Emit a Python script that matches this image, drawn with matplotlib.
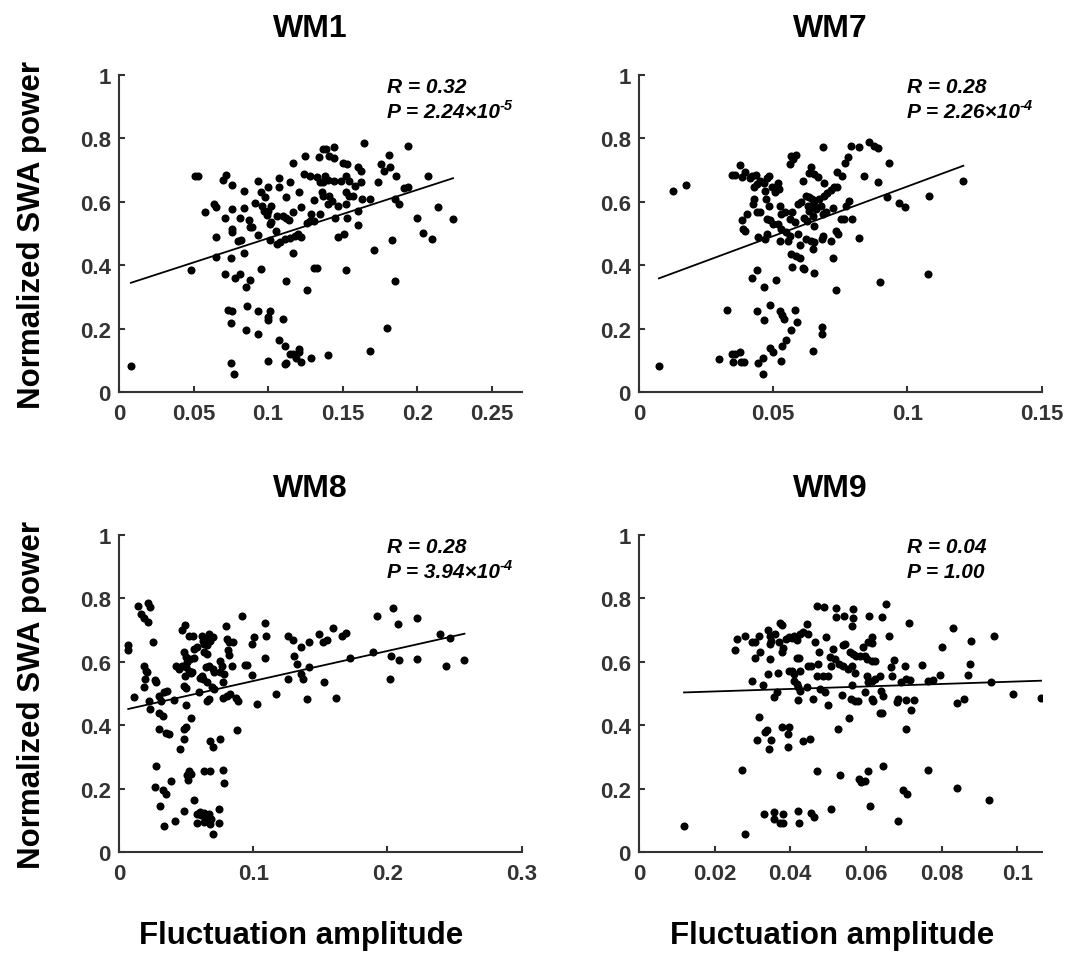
"""
Normalized SWA power vs fluctuation amplitude, four WM regions.
"""
import numpy as np
import matplotlib
matplotlib.use("Agg")
import matplotlib.pyplot as plt

plt.rcParams["font.family"] = ["Liberation Sans", "DejaVu Sans"]

# ---------------------------------------------------------------------
# Data
# ---------------------------------------------------------------------
wm1_x = [
    0.008, 0.048, 0.051, 0.053, 0.058, 0.064, 0.065, 0.065, 0.065, 0.070,
    0.072, 0.076, 0.071, 0.076, 0.076, 0.076, 0.071, 0.075, 0.078, 0.081,
    0.080, 0.082, 0.081, 0.084, 0.085, 0.088, 0.084, 0.084, 0.087, 0.088,
    0.089, 0.091, 0.093, 0.093, 0.095, 0.096, 0.097, 0.098, 0.099, 0.100,
    0.100, 0.102, 0.101, 0.102, 0.095, 0.101, 0.105, 0.107, 0.107, 0.106,
    0.106, 0.108, 0.110, 0.112, 0.114, 0.112, 0.115, 0.117, 0.117, 0.111,
    0.115, 0.118, 0.120, 0.122, 0.117, 0.112, 0.121, 0.122, 0.124, 0.125,
    0.126, 0.128, 0.131, 0.129, 0.128, 0.131, 0.134, 0.135, 0.133, 0.135,
    0.137, 0.136, 0.137, 0.137, 0.139, 0.138, 0.140, 0.140, 0.143, 0.141,
    0.141, 0.144, 0.144, 0.144, 0.145, 0.147, 0.147, 0.151, 0.149, 0.150,
    0.153, 0.152, 0.154, 0.152, 0.153, 0.152, 0.154, 0.157, 0.158, 0.160,
    0.160, 0.162, 0.162, 0.163, 0.164, 0.160, 0.168, 0.171, 0.174, 0.176,
    0.178, 0.181, 0.182, 0.186, 0.185, 0.188, 0.183, 0.185, 0.191, 0.194,
    0.194, 0.200, 0.204, 0.207, 0.210, 0.214, 0.224, 0.131, 0.133, 0.152,
    0.126, 0.073, 0.076, 0.075, 0.086, 0.085, 0.093, 0.093, 0.100, 0.101,
    0.100, 0.110, 0.107, 0.111, 0.115, 0.117, 0.121, 0.121, 0.119, 0.122,
    0.112, 0.111, 0.129, 0.140, 0.100, 0.075, 0.077, 0.168, 0.180,
]
wm1_y = [
    0.084, 0.386, 0.681, 0.683, 0.567, 0.592, 0.583, 0.491, 0.425, 0.670,
    0.686, 0.653, 0.548, 0.515, 0.506, 0.578, 0.373, 0.422, 0.359, 0.373,
    0.478, 0.480, 0.551, 0.438, 0.331, 0.355, 0.636, 0.581, 0.543, 0.520,
    0.522, 0.596, 0.665, 0.496, 0.630, 0.588, 0.572, 0.615, 0.559, 0.572,
    0.646, 0.588, 0.530, 0.538, 0.389, 0.480, 0.509, 0.646, 0.674, 0.557,
    0.467, 0.473, 0.557, 0.549, 0.543, 0.615, 0.662, 0.723, 0.567, 0.483,
    0.485, 0.494, 0.499, 0.488, 0.438, 0.352, 0.630, 0.585, 0.688, 0.746,
    0.534, 0.540, 0.540, 0.562, 0.681, 0.607, 0.741, 0.562, 0.678, 0.664,
    0.664, 0.630, 0.620, 0.767, 0.767, 0.681, 0.670, 0.593, 0.604, 0.620,
    0.746, 0.737, 0.772, 0.667, 0.548, 0.588, 0.491, 0.499, 0.667, 0.723,
    0.720, 0.681, 0.667, 0.593, 0.548, 0.630, 0.620, 0.620, 0.651, 0.573,
    0.711, 0.696, 0.662, 0.609, 0.785, 0.527, 0.609, 0.450, 0.662, 0.720,
    0.696, 0.748, 0.709, 0.681, 0.609, 0.593, 0.480, 0.350, 0.643, 0.647,
    0.775, 0.548, 0.501, 0.681, 0.483, 0.583, 0.546, 0.392, 0.392, 0.384,
    0.324, 0.260, 0.257, 0.217, 0.273, 0.197, 0.255, 0.183, 0.229, 0.257,
    0.236, 0.231, 0.166, 0.147, 0.121, 0.121, 0.137, 0.126, 0.107, 0.097,
    0.092, 0.089, 0.107, 0.119, 0.100, 0.093, 0.058, 0.130, 0.204,
]

wm7_x = [
    0.0074, 0.0126, 0.0175, 0.0326, 0.0298, 0.0347, 0.0359, 0.0375, 0.0349, 0.0380,
    0.0390, 0.0348, 0.0375, 0.0359, 0.0384, 0.0393, 0.0414, 0.0420, 0.0436, 0.0429,
    0.0439, 0.0451, 0.0466, 0.0475, 0.0485, 0.0469, 0.0494, 0.0518, 0.0522, 0.0506,
    0.0384, 0.0387, 0.0393, 0.0402, 0.0424, 0.0429, 0.0439, 0.0451, 0.0473, 0.0485,
    0.0475, 0.0487, 0.0498, 0.0445, 0.0469, 0.0478, 0.0524, 0.0529, 0.0543, 0.0518,
    0.0529, 0.0524, 0.0549, 0.0555, 0.0561, 0.0561, 0.0571, 0.0580, 0.0567, 0.0586,
    0.0564, 0.0574, 0.0593, 0.0604, 0.0594, 0.0598, 0.0610, 0.0616, 0.0625, 0.0623,
    0.0635, 0.0645, 0.0653, 0.0629, 0.0635, 0.0653, 0.0659, 0.0641, 0.0653, 0.0632,
    0.0666, 0.0647, 0.0653, 0.0623, 0.0641, 0.0653, 0.0647, 0.0672, 0.0678, 0.0690,
    0.0686, 0.0690, 0.0702, 0.0686, 0.0696, 0.0684, 0.0681, 0.0714, 0.0727, 0.0739,
    0.0721, 0.0714, 0.0735, 0.0743, 0.0751, 0.0763, 0.0739, 0.0755, 0.0767, 0.0779,
    0.0770, 0.0784, 0.0794, 0.0788, 0.0821, 0.0837, 0.0821, 0.0858, 0.0877, 0.0890,
    0.0892, 0.0931, 0.0923, 0.0968, 0.0990, 0.1082, 0.1208, 0.1076, 0.0898, 0.0735,
    0.0724, 0.0653, 0.0610, 0.0616, 0.0571, 0.0567, 0.0586, 0.0598, 0.0420, 0.0439,
    0.0466, 0.0512, 0.0439, 0.0466, 0.0488, 0.0524, 0.0534, 0.0540, 0.0582, 0.0588,
    0.0565, 0.0549, 0.0534, 0.0681, 0.0681, 0.0647, 0.0488, 0.0500, 0.0463, 0.0445,
    0.0530, 0.0460,
]
wm7_y = [
    0.084, 0.636, 0.653, 0.260, 0.105, 0.121, 0.121, 0.128, 0.095, 0.095,
    0.097, 0.686, 0.718, 0.685, 0.678, 0.695, 0.674, 0.683, 0.686, 0.646,
    0.657, 0.667, 0.660, 0.676, 0.681, 0.636, 0.646, 0.660, 0.641, 0.632,
    0.543, 0.515, 0.510, 0.562, 0.593, 0.609, 0.567, 0.569, 0.609, 0.588,
    0.546, 0.543, 0.530, 0.488, 0.483, 0.499, 0.588, 0.562, 0.567, 0.530,
    0.515, 0.478, 0.504, 0.478, 0.494, 0.546, 0.567, 0.536, 0.746, 0.748,
    0.720, 0.735, 0.593, 0.599, 0.499, 0.465, 0.667, 0.551, 0.541, 0.620,
    0.615, 0.609, 0.604, 0.588, 0.573, 0.588, 0.578, 0.709, 0.688, 0.690,
    0.678, 0.557, 0.525, 0.483, 0.478, 0.475, 0.452, 0.609, 0.588, 0.659,
    0.772, 0.620, 0.627, 0.562, 0.567, 0.494, 0.483, 0.638, 0.646, 0.646,
    0.580, 0.478, 0.509, 0.499, 0.546, 0.546, 0.695, 0.681, 0.723, 0.741,
    0.588, 0.604, 0.546, 0.775, 0.773, 0.683, 0.486, 0.788, 0.775, 0.769,
    0.662, 0.723, 0.615, 0.597, 0.585, 0.618, 0.665, 0.373, 0.349, 0.324,
    0.423, 0.376, 0.391, 0.389, 0.394, 0.436, 0.431, 0.422, 0.359, 0.386,
    0.331, 0.355, 0.257, 0.228, 0.275, 0.257, 0.244, 0.231, 0.260, 0.221,
    0.197, 0.166, 0.147, 0.205, 0.184, 0.131, 0.139, 0.126, 0.107, 0.091,
    0.100, 0.058,
]

wm8_x = [
    0.0069, 0.0069, 0.0113, 0.0142, 0.0162, 0.0186, 0.0216, 0.0228, 0.0216, 0.0252,
    0.0186, 0.0203, 0.0211, 0.0191, 0.0186, 0.0265, 0.0277, 0.0221, 0.0228, 0.0301,
    0.0314, 0.0338, 0.0358, 0.0326, 0.0301, 0.0301, 0.0350, 0.0375, 0.0412, 0.0277,
    0.0270, 0.0326, 0.0350, 0.0306, 0.0333, 0.0387, 0.0417, 0.0485, 0.0424, 0.0448,
    0.0456, 0.0485, 0.0485, 0.0498, 0.0539, 0.0498, 0.0485, 0.0498, 0.0490, 0.0522,
    0.0534, 0.0473, 0.0498, 0.0510, 0.0547, 0.0485, 0.0498, 0.0529, 0.0559, 0.0473,
    0.0490, 0.0522, 0.0554, 0.0559, 0.0583, 0.0596, 0.0603, 0.0620, 0.0620, 0.0627,
    0.0645, 0.0637, 0.0657, 0.0681, 0.0701, 0.0669, 0.0632, 0.0657, 0.0645, 0.0669,
    0.0627, 0.0657, 0.0701, 0.0711, 0.0669, 0.0657, 0.0706, 0.0694, 0.0676, 0.0701,
    0.0750, 0.0510, 0.0534, 0.0515, 0.0522, 0.0632, 0.0681, 0.0775, 0.0784, 0.0559,
    0.0578, 0.0603, 0.0613, 0.0637, 0.0645, 0.0669, 0.0686, 0.0578, 0.0632, 0.0681,
    0.0701, 0.0743, 0.0743, 0.0750, 0.0767, 0.0755, 0.0779, 0.0775, 0.0775, 0.0804,
    0.0824, 0.0799, 0.0804, 0.0816, 0.0853, 0.0811, 0.0816, 0.0841, 0.0873, 0.0890,
    0.0877, 0.0914, 0.0939, 0.0956, 0.0988, 0.1005, 0.0988, 0.1025, 0.1086, 0.1093,
    0.1086, 0.1172, 0.1257, 0.1294, 0.1306, 0.1326, 0.1257, 0.1355, 0.1417, 0.1355,
    0.1373, 0.1412, 0.1404, 0.1490, 0.1520, 0.1547, 0.1593, 0.1662, 0.1694, 0.1527,
    0.1618, 0.1723, 0.1895, 0.1919, 0.2042, 0.2078, 0.2029, 0.2083, 0.2017, 0.2221,
    0.2221, 0.2392, 0.2466, 0.2434, 0.2574,
]
wm8_y = [
    0.653, 0.638, 0.488, 0.775, 0.751, 0.738, 0.785, 0.772, 0.725, 0.664,
    0.588, 0.572, 0.567, 0.546, 0.520, 0.543, 0.536, 0.478, 0.450, 0.494,
    0.478, 0.506, 0.509, 0.431, 0.438, 0.389, 0.376, 0.373, 0.481, 0.273,
    0.205, 0.197, 0.183, 0.147, 0.084, 0.226, 0.099, 0.129, 0.588, 0.578,
    0.324, 0.357, 0.389, 0.394, 0.422, 0.464, 0.525, 0.517, 0.557, 0.572,
    0.565, 0.588, 0.583, 0.599, 0.567, 0.630, 0.615, 0.610, 0.611, 0.699,
    0.716, 0.683, 0.683, 0.641, 0.646, 0.504, 0.548, 0.557, 0.683, 0.667,
    0.672, 0.657, 0.653, 0.667, 0.678, 0.688, 0.630, 0.625, 0.583, 0.588,
    0.546, 0.536, 0.578, 0.567, 0.483, 0.478, 0.515, 0.520, 0.352, 0.331,
    0.357, 0.242, 0.247, 0.228, 0.257, 0.257, 0.257, 0.260, 0.217, 0.165,
    0.119, 0.126, 0.116, 0.124, 0.110, 0.121, 0.105, 0.092, 0.095, 0.089,
    0.058, 0.137, 0.092, 0.604, 0.588, 0.567, 0.562, 0.536, 0.485, 0.494,
    0.499, 0.712, 0.672, 0.664, 0.662, 0.636, 0.622, 0.588, 0.485, 0.478,
    0.386, 0.744, 0.591, 0.591, 0.657, 0.678, 0.559, 0.467, 0.723, 0.683,
    0.611, 0.499, 0.683, 0.670, 0.620, 0.593, 0.546, 0.646, 0.662, 0.562,
    0.546, 0.583, 0.483, 0.688, 0.662, 0.670, 0.706, 0.680, 0.691, 0.536,
    0.486, 0.611, 0.630, 0.746, 0.769, 0.720, 0.618, 0.606, 0.546, 0.739,
    0.609, 0.688, 0.675, 0.586, 0.606,
]

wm9_x = [
    0.0119, 0.0280, 0.0273, 0.0254, 0.0258, 0.0280, 0.0299, 0.0306, 0.0317, 0.0299,
    0.0306, 0.0320, 0.0327, 0.0342, 0.0346, 0.0349, 0.0346, 0.0342, 0.0346, 0.0358,
    0.0364, 0.0359, 0.0370, 0.0368, 0.0373, 0.0379, 0.0381, 0.0379, 0.0390, 0.0396,
    0.0405, 0.0411, 0.0417, 0.0426, 0.0434, 0.0448, 0.0445, 0.0417, 0.0423, 0.0397,
    0.0404, 0.0411, 0.0426, 0.0411, 0.0417, 0.0426, 0.0421, 0.0443, 0.0421, 0.0448,
    0.0456, 0.0474, 0.0461, 0.0465, 0.0470, 0.0489, 0.0476, 0.0472, 0.0487, 0.0499,
    0.0478, 0.0491, 0.0499, 0.0494, 0.0505, 0.0514, 0.0518, 0.0509, 0.0521, 0.0522,
    0.0543, 0.0529, 0.0540, 0.0553, 0.0562, 0.0540, 0.0545, 0.0537, 0.0567, 0.0567,
    0.0562, 0.0558, 0.0567, 0.0575, 0.0584, 0.0571, 0.0562, 0.0560, 0.0571, 0.0580,
    0.0555, 0.0593, 0.0597, 0.0602, 0.0615, 0.0624, 0.0608, 0.0606, 0.0615, 0.0617,
    0.0602, 0.0606, 0.0617, 0.0624, 0.0597, 0.0615, 0.0619, 0.0637, 0.0641, 0.0646,
    0.0637, 0.0643, 0.0643, 0.0653, 0.0661, 0.0666, 0.0670, 0.0675, 0.0681, 0.0685,
    0.0694, 0.0703, 0.0707, 0.0717, 0.0707, 0.0727, 0.0720, 0.0714, 0.0707, 0.0749,
    0.0763, 0.0778, 0.0796, 0.0802, 0.0831, 0.0840, 0.0860, 0.0869, 0.0875, 0.0879,
    0.0932, 0.0939, 0.0989, 0.1064, 0.0317, 0.0333, 0.0339, 0.0311, 0.0349, 0.0344,
    0.0377, 0.0397, 0.0395, 0.0395, 0.0434, 0.0452, 0.0525, 0.0472, 0.0531, 0.0581,
    0.0588, 0.0597, 0.0606, 0.0644, 0.0763, 0.0697, 0.0709, 0.0841, 0.0926, 0.0612,
    0.0685, 0.0507, 0.0330, 0.0358, 0.0381, 0.0421, 0.0456, 0.0463, 0.0358, 0.0373,
    0.0381, 0.0423,
]
wm9_y = [
    0.084, 0.058, 0.259, 0.636, 0.671, 0.680, 0.662, 0.664, 0.683, 0.541,
    0.611, 0.630, 0.527, 0.699, 0.683, 0.667, 0.657, 0.562, 0.609, 0.488,
    0.504, 0.688, 0.662, 0.565, 0.723, 0.716, 0.643, 0.630, 0.672, 0.678,
    0.674, 0.681, 0.670, 0.688, 0.695, 0.688, 0.720, 0.611, 0.611, 0.571,
    0.571, 0.562, 0.572, 0.541, 0.530, 0.509, 0.520, 0.520, 0.481, 0.588,
    0.588, 0.593, 0.483, 0.662, 0.775, 0.772, 0.630, 0.555, 0.555, 0.555,
    0.515, 0.504, 0.464, 0.678, 0.616, 0.641, 0.609, 0.588, 0.769, 0.741,
    0.746, 0.593, 0.588, 0.578, 0.588, 0.653, 0.657, 0.496, 0.767, 0.737,
    0.712, 0.630, 0.625, 0.620, 0.620, 0.565, 0.527, 0.483, 0.478, 0.478,
    0.423, 0.646, 0.620, 0.609, 0.604, 0.604, 0.746, 0.664, 0.678, 0.660,
    0.557, 0.536, 0.541, 0.546, 0.504, 0.483, 0.478, 0.557, 0.509, 0.494,
    0.438, 0.438, 0.743, 0.783, 0.683, 0.583, 0.555, 0.606, 0.473, 0.483,
    0.536, 0.588, 0.546, 0.544, 0.480, 0.480, 0.449, 0.723, 0.387, 0.591,
    0.541, 0.544, 0.559, 0.648, 0.706, 0.470, 0.483, 0.559, 0.593, 0.665,
    0.536, 0.683, 0.499, 0.486, 0.425, 0.378, 0.385, 0.355, 0.354, 0.324,
    0.394, 0.394, 0.373, 0.331, 0.350, 0.357, 0.387, 0.255, 0.244, 0.231,
    0.221, 0.226, 0.255, 0.273, 0.259, 0.197, 0.184, 0.204, 0.165, 0.145,
    0.099, 0.137, 0.119, 0.128, 0.119, 0.131, 0.123, 0.110, 0.105, 0.092,
    0.092, 0.092,
]

# linear fits: (slope, intercept)
wm1_fit = (1.526, 0.333)
wm7_fit = (3.13, 0.336)
wm8_fit = (0.947, 0.445)
wm9_fit = (0.392, 0.499)

titles = ["WM1", "WM7", "WM8", "WM9"]
r_labels = ["R = 0.32", "R = 0.28", "R = 0.28", "R = 0.04"]
p_labels = ["P = 2.24\u00d710", "P = 2.26\u00d710", "P = 3.94\u00d710", "P = 1.00"]
p_exponents = ["-5", "-4", "-4", ""]
x_limits = [0.27, 0.15, 0.3, 0.1065]
x_ticks = [
    ["0", "0.05", "0.1", "0.15", "0.2", "0.25"],
    ["0", "0.05", "0.1", "0.15"],
    ["0", "0.1", "0.2", "0.3"],
    ["0", "0.02", "0.04", "0.06", "0.08", "0.1"],
]
y_ticks = ["0", "0.2", "0.4", "0.6", "0.8", "1"]

AX_COLOR = "#333333"


def draw_panel(ax, x, y, fit, title, r_txt, p_txt, p_exp, xmax, xticks):
    x = np.asarray(x)
    y = np.asarray(y)
    ax.plot(x, y, "o", color="black", markersize=5.8, markeredgewidth=0)

    xs = np.array([x.min(), x.max()])
    ax.plot(xs, fit[0] * xs + fit[1], color="black", linewidth=1.3)

    ax.set_xlim(0, xmax)
    ax.set_ylim(0, 1)
    ax.set_xticks([float(t) for t in xticks])
    ax.set_xticklabels(xticks)
    ax.set_yticks([float(t) for t in y_ticks])
    ax.set_yticklabels(y_ticks)

    for side in ("top", "right"):
        ax.spines[side].set_visible(False)
    for side in ("left", "bottom"):
        ax.spines[side].set_linewidth(1.5)
        ax.spines[side].set_color(AX_COLOR)
    ax.tick_params(direction="in", length=4.5, width=1.5, color=AX_COLOR,
                   labelcolor=AX_COLOR, labelsize=16)
    ax.tick_params(axis="x", pad=8)
    ax.tick_params(axis="y", pad=6)
    for lab in ax.get_xticklabels() + ax.get_yticklabels():
        lab.set_fontweight("bold")

    ax.set_title(title, fontsize=23, fontweight="bold", pad=28, x=0.476)

    # R / P annotation, bold italic like the original
    ax.text(0.665, 0.945, r_txt, transform=ax.transAxes, fontsize=15,
            fontweight="bold", fontstyle="italic", va="baseline")
    p = ax.text(0.665, 0.867, p_txt, transform=ax.transAxes, fontsize=15,
                fontweight="bold", fontstyle="italic", va="baseline")
    if p_exp:
        ax.annotate(p_exp, xy=(1.0, 0.5), xycoords=p, fontsize=10.5,
                    fontweight="bold", fontstyle="italic",
                    ha="left", va="bottom")


fig = plt.figure(figsize=(10.67, 9.54), dpi=100)
positions = [
    [0.1115, 0.5877, 0.3774, 0.3326],
    [0.5989, 0.5877, 0.3774, 0.3326],
    [0.1115, 0.1056, 0.3774, 0.3326],
    [0.5989, 0.1056, 0.3774, 0.3326],
]
series = [(wm1_x, wm1_y, wm1_fit), (wm7_x, wm7_y, wm7_fit),
          (wm8_x, wm8_y, wm8_fit), (wm9_x, wm9_y, wm9_fit)]

axes = []
for i, (pos, (sx, sy, sfit)) in enumerate(zip(positions, series)):
    ax = fig.add_axes(pos)
    draw_panel(ax, sx, sy, sfit, titles[i], r_labels[i], p_labels[i],
               p_exponents[i], x_limits[i], x_ticks[i])
    axes.append(ax)

for ax in (axes[0], axes[2]):
    ax.set_ylabel("Normalized SWA power", fontsize=22.5, fontweight="bold",
                  va="center")
    ax.yaxis.set_label_coords(-0.215, 0.5)

for ax, xc in ((axes[2], 0.452), (axes[3], 0.479)):
    ax.set_xlabel("Fluctuation amplitude", fontsize=22.5, fontweight="bold")
    ax.xaxis.set_label_coords(xc, -0.262)
    ax.xaxis.label.set_verticalalignment("center")

fig.savefig("out.png", dpi=100)
